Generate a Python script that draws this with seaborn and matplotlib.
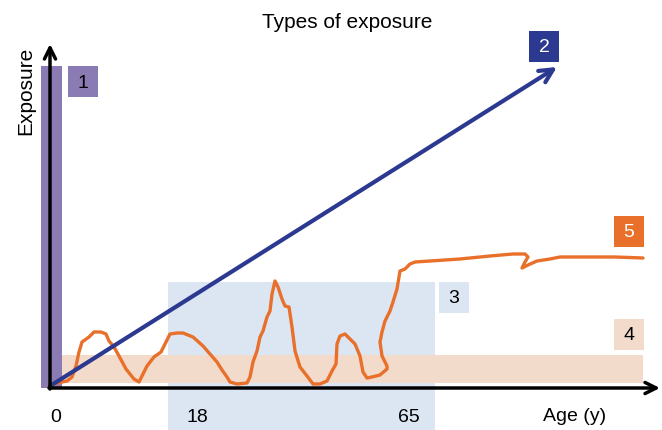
import numpy as np
import matplotlib
matplotlib.use("Agg")
import matplotlib.pyplot as plt
import seaborn as sns

# chart values (in picture units: x = age axis, y = exposure, drawn top-down)
axis_origin = (50, 389)
x_axis_end = 660
y_axis_end = 45

tick_labels = ["0", "18", "65"]
tick_pos = [56, 197, 409]

# 1: short acute exposure at birth
acute_x = (41, 62)
acute_top = 67
# 2: cumulative exposure
cumul_start = (50, 387)
cumul_end = (557, 68)
# 3: working-age window
work_x = (168, 435)
work_top = 283
# 4: constant background
background_x = (62, 643)
background_y = (356, 384)

# 5: irregular exposure over life
curve_x = [49, 51, 57, 67, 72, 76, 79, 82, 89, 94, 101, 106, 109, 114, 119, 126,
           134, 139, 142, 147, 154, 161, 164, 170, 177, 183, 193, 203, 210, 217,
           222, 227, 230, 237, 247, 250, 253, 257, 260, 263, 267, 270, 272, 275,
           278, 282, 285, 289, 292, 295, 300, 307, 313, 320, 327, 332, 336, 337,
           340, 345, 350, 355, 360, 363, 367, 372, 380, 387, 387, 382, 380, 382,
           385, 390, 393, 397, 400, 405, 410, 415, 430, 460, 490, 513, 525, 528,
           525, 522, 528, 537, 550, 560, 590, 615, 643]
curve_y = [388, 387, 384, 382, 378, 367, 353, 343, 338, 333, 333, 335, 342, 348,
           357, 370, 380, 383, 377, 367, 358, 353, 347, 335, 334, 334, 338, 347,
           355, 363, 371, 378, 383, 385, 384, 378, 363, 352, 338, 332, 318, 312,
           295, 282, 288, 300, 307, 308, 328, 352, 368, 377, 385, 385, 382, 372,
           365, 345, 337, 335, 340, 345, 357, 373, 379, 378, 376, 370, 367, 357,
           343, 333, 322, 312, 303, 290, 272, 270, 265, 263, 262, 260, 257, 255,
           255, 258, 263, 269, 266, 262, 260, 258, 258, 258, 259]

box_labels = ["1", "2", "3", "4", "5"]
box_corner = [(68, 67), (529, 32), (439, 283), (614, 320), (614, 217)]

purple = "#8b7bb5"
navy = "#2b3990"
light_blue = "#dce6f2"
peach = "#f3dbcc"
orange = "#e8702a"
box_colors = [purple, navy, light_blue, peach, orange]
box_text = ["black", "white", "black", "black", "white"]

sns.set_style("white")
plt.rcParams["font.family"] = ["Liberation Sans", "DejaVu Sans"]
plt.rcParams["text.color"] = "black"

fig = plt.figure(figsize=(6.62, 4.31), dpi=100)
ax = fig.add_axes([0, 0, 1, 1])
ax.set_xlim(0, 662)
ax.set_ylim(431, 0)
ax.set_axis_off()

# regions
ax.fill_between(work_x, work_top, 431, color=light_blue, lw=0, zorder=1)
ax.fill_between(background_x, background_y[0], background_y[1], color=peach, lw=0, zorder=2)
ax.fill_between(acute_x, acute_top, axis_origin[1], color=purple, lw=0, zorder=3)

# irregular exposure curve
sns.lineplot(x=curve_x, y=curve_y, sort=False, estimator=None, color=orange,
             lw=2.4, ax=ax, zorder=4)
ax.lines[-1].set_solid_joinstyle("round")

# cumulative arrow
ax.annotate("", xy=cumul_end, xytext=cumul_start, zorder=5,
            arrowprops=dict(arrowstyle="->", color=navy, lw=3,
                            mutation_scale=24, shrinkA=0, shrinkB=0))

# axes arrows
ax.annotate("", xy=(x_axis_end, axis_origin[1]), xytext=(axis_origin[0] - 1, axis_origin[1]),
            zorder=6, arrowprops=dict(arrowstyle="->", color="black", lw=2.5,
                                      mutation_scale=20, shrinkA=0, shrinkB=0))
ax.annotate("", xy=(axis_origin[0], y_axis_end), xytext=(axis_origin[0], axis_origin[1] + 1),
            zorder=6, arrowprops=dict(arrowstyle="->", color="black", lw=2.5,
                                      mutation_scale=20, shrinkA=0, shrinkB=0))

# numbered boxes
for lab, (bx, by), c, tc in zip(box_labels, box_corner, box_colors, box_text):
    ax.fill_between([bx, bx + 30], by, by + 31, color=c, lw=0, zorder=7)
    ax.text(bx + 15, by + 16, lab, color=tc, fontsize=14, ha="center", va="center", zorder=8)

# texts
for lab, px in zip(tick_labels, tick_pos):
    ax.text(px, 422, lab, fontsize=14, ha="center", va="baseline")
ax.text(575, 421, "Age (y)", fontsize=14, ha="center", va="baseline")
ax.text(26, 91, "Exposure", fontsize=15, rotation=90, ha="center", va="center")
ax.text(347, 28, "Types of exposure", fontsize=15, ha="center", va="baseline")

fig.savefig("out.png", dpi=100)
